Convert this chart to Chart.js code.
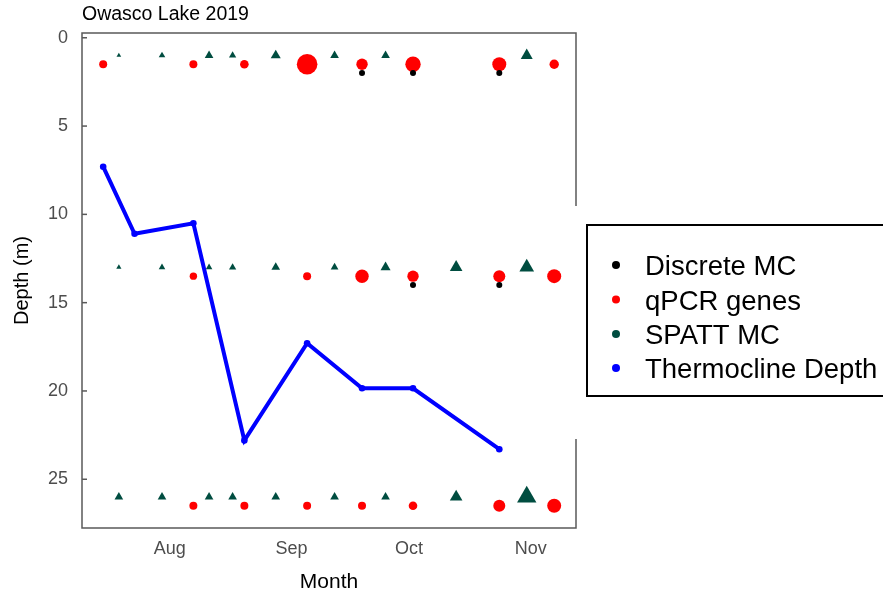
<!DOCTYPE html>
<html><head><meta charset="utf-8">
<script src="https://cdn.jsdelivr.net/npm/chart.js@4.4.1/dist/chart.umd.min.js"></script>
<style>html,body{margin:0;padding:0;background:#fff;}canvas{display:block;}</style>
</head><body>
<canvas id="c" width="883" height="595"></canvas>
<script>
// ---- data ----
const chartTitle = 'Owasco Lake 2019';
const monthTickDates = ['2019-08-01', '2019-09-01', '2019-10-01', '2019-11-01'];
const monthTickLabels = ['Aug', 'Sep', 'Oct', 'Nov'];
const depthTicks = [0, 5, 10, 15, 20, 25];

const thermoDates = ['2019-07-15', '2019-07-23', '2019-08-07', '2019-08-20', '2019-09-05', '2019-09-19', '2019-10-02', '2019-10-24'];
const thermoDepth = [7.3, 11.1, 10.5, 22.8, 17.3, 19.85, 19.85, 23.3];

const discreteDates = ['2019-09-19', '2019-10-02', '2019-10-24', '2019-10-02', '2019-10-24'];
const discreteDepth = [2, 2, 2, 14, 14];
const discreteLevel = [9, 9, 9, 9, 9];

const qpcrDates = ['2019-07-15', '2019-08-07', '2019-08-20', '2019-09-05', '2019-09-19', '2019-10-02', '2019-10-24', '2019-11-07',
                   '2019-08-07', '2019-09-05', '2019-09-19', '2019-10-02', '2019-10-24', '2019-11-07',
                   '2019-08-07', '2019-08-20', '2019-09-05', '2019-09-19', '2019-10-02', '2019-10-24', '2019-11-07'];
const qpcrDepth = [1.5, 1.5, 1.5, 1.5, 1.5, 1.5, 1.5, 1.5,
                   13.5, 13.5, 13.5, 13.5, 13.5, 13.5,
                   26.5, 26.5, 26.5, 26.5, 26.5, 26.5, 26.5];
const qpcrLevel = [16, 16, 18.5, 106, 32.5, 59, 49, 22,
                   13.7, 16, 45, 32.5, 36, 49,
                   16, 16, 16, 16, 18.5, 36, 49];

const spattDates = ['2019-07-19', '2019-07-30', '2019-08-11', '2019-08-17', '2019-08-28', '2019-09-12', '2019-09-25', '2019-10-31',
                    '2019-07-19', '2019-07-30', '2019-08-11', '2019-08-17', '2019-08-28', '2019-09-12', '2019-09-25', '2019-10-13', '2019-10-31',
                    '2019-07-19', '2019-07-30', '2019-08-11', '2019-08-17', '2019-08-28', '2019-09-12', '2019-09-25', '2019-10-13', '2019-10-31'];
const spattDepth = [1, 1, 1, 1, 1, 1, 1, 1,
                    13, 13, 13, 13, 13, 13, 13, 13, 13,
                    26, 26, 26, 26, 26, 26, 26, 26, 26];
const spattLevel = [7.3, 14.4, 25, 17.6, 33.6, 25, 25, 47.6,
                    9, 14.4, 14.4, 17.6, 25, 20, 33.6, 53, 72,
                    25, 25, 25, 25, 25, 25, 25, 53, 125];

const legendLabels = ['Discrete MC', 'qPCR genes', 'SPATT MC', 'Thermocline Depth'];
const legendColors = ['#000000', '#FF0000', '#004D40', '#0000FF'];

// ---- helpers ----
function doy(s) {
  const [y, m, d] = s.split('-').map(Number);
  return (Date.UTC(y, m - 1, d) - Date.UTC(y, 0, 1)) / 86400000 + 1;
}
const pts = (dates, depth) => dates.map((d, i) => ({x: doy(d), y: depth[i]}));
const rad = levels => levels.map(v => Math.sqrt(v));
const monthTickValues = monthTickDates.map(doy);

Chart.defaults.font.family = "'Liberation Sans', Arial, sans-serif";

const framePlugin = {
  id: 'frame',
  beforeDatasetsDraw(chart) {
    const {ctx, chartArea: a, scales: {y}} = chart;
    ctx.save();
    ctx.strokeStyle = '#595959';
    ctx.lineWidth = 1.5;
    ctx.strokeRect(a.left, a.top, a.right - a.left, a.bottom - a.top);
    y.ticks.forEach(t => {
      const py = y.getPixelForValue(t.value);
      ctx.beginPath(); ctx.moveTo(a.left, py); ctx.lineTo(a.left + 5, py); ctx.stroke();
    });
    ctx.restore();
  },
  afterDraw(chart) {
    const ctx = chart.ctx;
    ctx.save();
    ctx.fillStyle = '#fff';
    ctx.fillRect(569, 206, 314, 233);
    ctx.strokeStyle = '#000';
    ctx.lineWidth = 2;
    ctx.strokeRect(587, 225, 320, 171);
    ctx.font = "27.5px 'Liberation Sans', Arial, sans-serif";
    ctx.textBaseline = 'alphabetic';
    ctx.textAlign = 'left';
    const base = [275, 309.5, 344, 378];
    legendLabels.forEach((lab, i) => {
      ctx.fillStyle = legendColors[i];
      ctx.beginPath(); ctx.arc(616, base[i] - 10, 4, 0, Math.PI * 2); ctx.fill();
      ctx.fillStyle = '#000';
      ctx.fillText(lab, 645, base[i]);
    });
    ctx.restore();
  }
};

new Chart(document.getElementById('c'), {
  type: 'scatter',
  data: {
    datasets: [
      {
        label: legendLabels[3], data: pts(thermoDates, thermoDepth), showLine: true,
        borderColor: legendColors[3], backgroundColor: legendColors[3], borderWidth: 4,
        pointRadius: 3.3, pointBorderWidth: 0, pointStyle: 'circle'
      },
      {
        label: legendLabels[0], data: pts(discreteDates, discreteDepth),
        backgroundColor: legendColors[0], pointRadius: rad(discreteLevel), pointBorderWidth: 0
      },
      {
        label: legendLabels[1], data: pts(qpcrDates, qpcrDepth),
        backgroundColor: legendColors[1], pointRadius: rad(qpcrLevel), pointBorderWidth: 0
      },
      {
        label: legendLabels[2], data: pts(spattDates, spattDepth),
        backgroundColor: legendColors[2], pointRadius: rad(spattLevel), pointBorderWidth: 0,
        pointStyle: 'triangle'
      }
    ]
  },
  options: {
    responsive: false,
    animation: false,
    devicePixelRatio: 1,
    layout: {padding: {left: 0, right: 307, top: 0, bottom: 0}},
    plugins: {
      legend: {display: false},
      tooltip: {enabled: false},
      title: {
        display: true, text: chartTitle, align: 'start', fullSize: false,
        color: '#000', font: {size: 19.5, weight: 'normal'}, padding: {top: 3, bottom: 6.6}
      }
    },
    scales: {
      x: {
        type: 'linear', min: 190.6, max: 316.56,
        afterFit: s => { s.height = 67; },
        afterBuildTicks: s => { s.ticks = monthTickValues.map(v => ({value: v})); },
        grid: {display: false, drawTicks: false},
        border: {display: false},
        ticks: {
          color: '#4d4d4d', font: {size: 18}, padding: 10, maxRotation: 0, autoSkip: false,
          callback: v => monthTickLabels[monthTickValues.indexOf(v)]
        },
        title: {display: true, text: 'Month', color: '#000', font: {size: 21}, padding: {top: 0, bottom: 0}}
      },
      y: {
        type: 'linear', reverse: true, min: -0.27, max: 27.76,
        afterFit: s => { s.width = 82; },
        afterBuildTicks: s => { s.ticks = depthTicks.map(v => ({value: v})); },
        grid: {display: false, drawTicks: false},
        border: {display: false},
        ticks: {color: '#4d4d4d', font: {size: 18}, padding: 14, autoSkip: false},
        title: {display: true, text: 'Depth (m)', color: '#000', font: {size: 20}, padding: {top: 10, bottom: 0}}
      }
    }
  },
  plugins: [framePlugin]
});
</script>
</body></html>
